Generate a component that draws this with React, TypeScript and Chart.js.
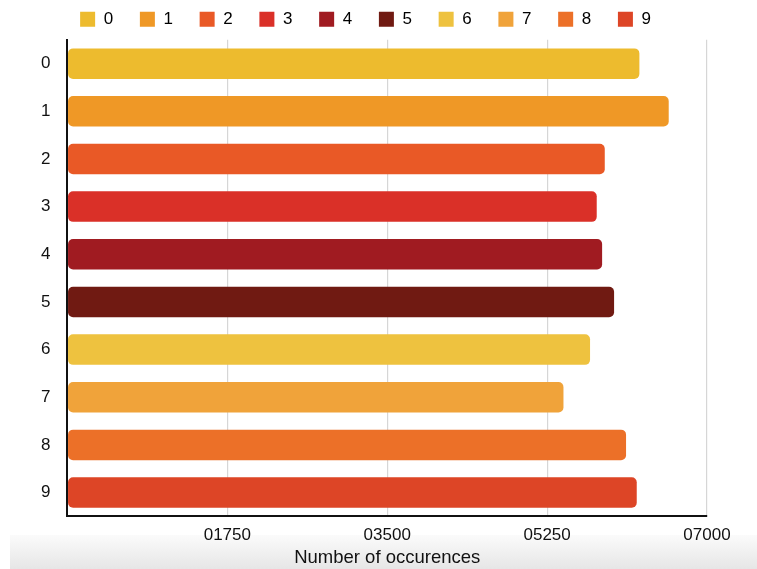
import React, { useEffect, useRef } from "react";
import { Chart, registerables } from "chart.js";

Chart.register(...registerables);

const categories = ["0", "1", "2", "3", "4", "5", "6", "7", "8", "9"];
const counts = [6260, 6581, 5881, 5793, 5852, 5983, 5720, 5429, 6114, 6231];
const colors = [
  "#EDBB2E",
  "#EF9826",
  "#E95926",
  "#DA3028",
  "#A01B21",
  "#701A12",
  "#EEC23F",
  "#F0A33A",
  "#EC7028",
  "#DD4526",
];
const xTicks = [0, 1750, 3500, 5250, 7000];
const xTitle = "Number of occurences";

const FONT = "'Liberation Sans', Arial, Helvetica, sans-serif";

export default function App() {
  const ref = useRef<HTMLCanvasElement | null>(null);

  useEffect(() => {
    if (!ref.current) return;
    const chart = new Chart(ref.current, {
      type: "bar",
      data: {
        labels: categories,
        datasets: [
          {
            data: counts,
            backgroundColor: colors,
            borderWidth: 0,
            borderRadius: 5,
            borderSkipped: false,
            categoryPercentage: 0.64,
            barPercentage: 1,
          },
        ],
      },
      options: {
        indexAxis: "y",
        animation: false,
        responsive: true,
        maintainAspectRatio: false,
        layout: { padding: { top: -24, left: 16, right: 42, bottom: 0 } },
        plugins: {
          tooltip: { enabled: false },
          title: {
            display: true,
            text: "",
            weight: 500,
            padding: 0,
            font: { size: 2, lineHeight: 1 },
          },
          legend: {
            display: true,
            position: "top",
            onClick: () => {},
            labels: {
              boxWidth: 15,
              boxHeight: 15,
              padding: 26.8,
              color: "#111",
              font: { family: FONT, size: 17 },
              generateLabels: () =>
                categories.map((c, i) => ({
                  text: c,
                  fillStyle: colors[i],
                  strokeStyle: colors[i],
                  lineWidth: 0,
                  hidden: false,
                  index: i,
                  datasetIndex: 0,
                })),
            },
          },
        },
        scales: {
          x: {
            type: "linear",
            min: xTicks[0],
            max: xTicks[xTicks.length - 1],
            afterBuildTicks: (axis: any) => {
              axis.ticks = xTicks.map((v) => ({ value: v }));
            },
            ticks: {
              color: "#111",
              font: { family: FONT, size: 17 },
              padding: 9,
              maxRotation: 0,
              callback: (v: any) =>
                Number(v) === 0 ? "" : String(v).padStart(5, "0"),
            },
            grid: {
              color: (ctx: any) =>
                ctx.tick && ctx.tick.value === 0 ? "rgba(0,0,0,0)" : "#d6d6d6",
              lineWidth: 1.2,
              drawTicks: false,
            },
            border: { display: true, color: "#111", width: 2 },
            title: {
              display: true,
              text: xTitle,
              color: "#111",
              font: { family: FONT, size: 18.5 },
              padding: { top: -8, bottom: 0 },
            },
          },
          y: {
            ticks: {
              color: "#111",
              font: { family: FONT, size: 17 },
              padding: 17,
            },
            grid: { display: false, drawTicks: false },
            border: { display: true, color: "#111", width: 2 },
          },
        },
      },
    });
    return () => chart.destroy();
  }, []);

  return (
    <>
      <div
        style={{
          position: "fixed",
          left: 10,
          top: 535,
          width: 747,
          height: 34,
          background: "linear-gradient(to bottom, #fbfbfb, #e6e6e6)",
          zIndex: 0,
        }}
      />
      <div
        style={{
          position: "relative",
          width: 741,
          height: 561,
          zIndex: 1,
        }}
      >
        <canvas ref={ref} />
      </div>
    </>
  );
}
